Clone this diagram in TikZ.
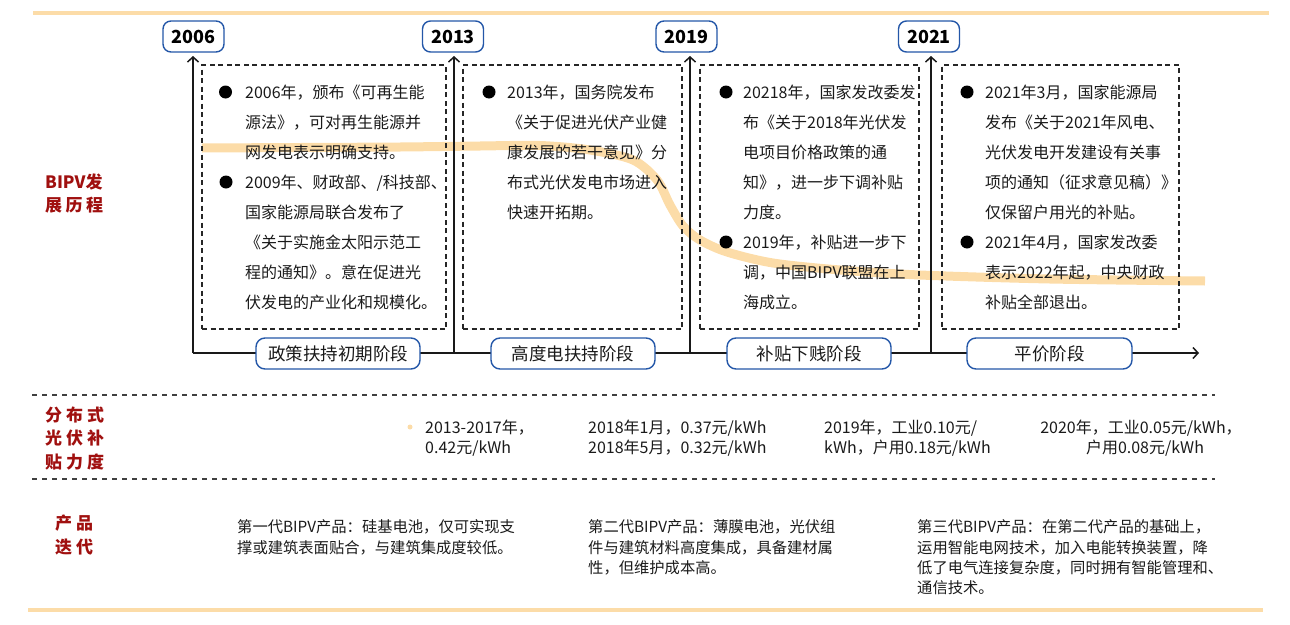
\documentclass[tikz,border=0pt]{standalone}
\usepackage{fontspec}
\setmainfont{Noto Sans CJK SC}
\usetikzlibrary{arrows.meta}
\definecolor{bblue}{HTML}{2457A8}
\definecolor{dred}{HTML}{A0100F}
\definecolor{lorange}{HTML}{FCDCA8}
\definecolor{txt}{HTML}{1A1A1A}
\begin{document}
\begin{tikzpicture}[x=1pt,y=-1pt,
  yearbox/.style={draw=bblue, line width=1.4pt, rounded corners=8pt, minimum width=61pt, minimum height=31pt, inner sep=0pt, fill=white, font=\fontsize{18}{18}\selectfont\bfseries, text=black},
  phasebox/.style={draw=bblue, line width=1.4pt, rounded corners=9pt, minimum width=164pt, minimum height=31pt, inner sep=0pt, fill=white, font=\fontsize{17.5}{17.5}\selectfont, text=txt},
  dashbox/.style={draw=black!85, line width=1.2pt, dash pattern=on 5pt off 3.5pt},
  axisline/.style={line width=1.8pt, draw=black!90, -{Straight Barb[length=5pt,width=11pt,line width=1.5pt]}},
  sepline/.style={draw=black!75, line width=1.2pt, dash pattern=on 5pt off 5pt},
  bandline/.style={draw=lorange, line width=4pt},
  bodytext/.style={anchor=base west, inner sep=0pt, font=\fontsize{16}{16}\selectfont, text=txt},
  subtext/.style={anchor=base west, inner sep=0pt, font=\fontsize{16}{16}\selectfont, text=txt},
  lowtext/.style={anchor=base west, inner sep=0pt, font=\fontsize{15.3}{15.3}\selectfont, text=txt},
  redlabel/.style={anchor=base west, inner sep=0pt, font=\fontsize{17}{17}\selectfont\bfseries, text=dred},
  bul/.style={circle, fill=black, inner sep=0pt, minimum size=13pt},
]
\useasboundingbox (0,0) rectangle (1290,624);

% top and bottom bands
\coordinate (tl) at (33,13); \coordinate (tr) at (1269,13);
\coordinate (bl) at (28,610); \coordinate (br) at (1263,610);
\draw[bandline] (tl) -- (tr);
\draw[bandline] (bl) -- (br);

% orange trend curve
\draw[draw=lorange, line width=9pt] plot[smooth, tension=0.5] coordinates
  {(202,148) (300,147.5) (400,147) (480,146) (540,145.5) (590,150) (633,160) (657,180) (670,205) (683,226) (700,240) (727,252) (773,263) (840,270) (920,275) (1050,279) (1205,281)};

% dashed boxes
\node[dashbox, minimum width=244pt, minimum height=264pt, inner sep=0pt] (box1) at (324,197) {};
\node[dashbox, minimum width=219pt, minimum height=264pt, inner sep=0pt] (box2) at (572.5,197) {};
\node[dashbox, minimum width=219pt, minimum height=264pt, inner sep=0pt] (box3) at (809.5,197) {};
\node[dashbox, minimum width=237pt, minimum height=264pt, inner sep=0pt] (box4) at (1060.5,197) {};

% axes
\coordinate (o1) at (193,353); \coordinate (u1) at (193,56);
\coordinate (o2) at (454,353); \coordinate (u2) at (454,56);
\coordinate (o3) at (690,353); \coordinate (u3) at (690,56);
\coordinate (o4) at (931,353); \coordinate (u4) at (931,56);
\coordinate (oe) at (1199,353);
\draw[axisline] (o1) -- (oe);
\draw[axisline] (o1) -- (u1);
\draw[axisline] (o2) -- (u2);
\draw[axisline] (o3) -- (u3);
\draw[axisline] (o4) -- (u4);

% year boxes
\node[yearbox] (y2006) at (193.5,36.5) {2006};
\node[yearbox] (y2013) at (453,36.5) {2013};
\node[yearbox] (y2019) at (686.5,36.5) {2019};
\node[yearbox] (y2021) at (929,36.5) {2021};

% phase boxes
\node[phasebox] (p1) at (338,353.5) {政策扶持初期阶段};
\node[phasebox] (p2) at (573,353.5) {高度电扶持阶段};
\node[phasebox] (p3) at (809,353.5) {补贴下贱阶段};
\node[phasebox, minimum width=165pt] (p4) at (1049.5,353.5) {平价阶段};

% bullets
\node[bul] (d1a) at (225.5,92) {};
\node[bul] (d1b) at (226,182) {};
\node[bul] (d2a) at (489,92) {};
\node[bul] (d3a) at (726,92) {};
\node[bul] (d3b) at (726,242) {};
\node[bul] (d4a) at (967,92) {};
\node[bul] (d4b) at (967,242) {};

% box texts
\foreach \t [count=\i] in {2006年，颁布《可再生能, 源法》，可对再生能源并, 网发电表示明确支持。, 2009年、财政部、/科技部、, 国家能源局联合发布了, 《关于实施金太阳示范工, 程的通知》。意在促进光, 伏发电的产业化和规模化。}
  \node[bodytext] (ta\i) at (245,{98+30*(\i-1)}) {\t};
\foreach \t [count=\i] in {2013年，国务院发布, 《关于促进光伏产业健, 康发展的若干意见》分, 布式光伏发电市场进入, 快速开拓期。}
  \node[bodytext] (tb\i) at (507,{98+30*(\i-1)}) {\t};
\foreach \t [count=\i] in {20218年，国家发改委发, 布《关于2018年光伏发, 电项目价格政策的通, 知》，进一步下调补贴, 力度。, 2019年，补贴进一步下, 调，中国BIPV联盟在上, 海成立。}
  \node[bodytext] (tc\i) at (743,{98+30*(\i-1)}) {\t};
\foreach \t [count=\i] in {2021年3月，国家能源局, 发布《关于2021年风电、, 光伏发电开发建设有关事, 项的通知（征求意见稿）》, 仅保留户用光的补贴。, 2021年4月，国家发改委, 表示2022年起，中央财政, 补贴全部退出。}
  \node[bodytext] (td\i) at (985,{98+30*(\i-1)}) {\t};

% left labels
\node[redlabel] (l1a) at (45,188) {BIPV发};
\node[redlabel] (l1b) at (45,211) {展\hspace{3.5pt}历\hspace{3.5pt}程};
\node[redlabel] (l2a) at (45,421) {分\hspace{4pt}布\hspace{4pt}式};
\node[redlabel] (l2b) at (45,444.5) {光\hspace{4pt}伏\hspace{4pt}补};
\node[redlabel] (l2c) at (45,468) {贴\hspace{4pt}力\hspace{4pt}度};
\node[redlabel] (l3a) at (55,529) {产\hspace{4pt}品};
\node[redlabel] (l3b) at (55,553) {迭\hspace{4pt}代};

% separators
\coordinate (s1l) at (32,395); \coordinate (s1r) at (1215,395);
\coordinate (s2l) at (32,479); \coordinate (s2r) at (1215,479);
\draw[sepline] (s1l) -- (s1r);
\draw[sepline] (s2l) -- (s2r);

% subsidy row
\node[circle, fill=lorange, inner sep=0pt, minimum size=5pt] (sd) at (410,427) {};
\node[subtext] (sa1) at (425,433.5) {2013-2017年，};
\node[subtext] (sa2) at (425,453.5) {0.42元/kWh};
\node[subtext] (sb1) at (588,433.5) {2018年1月，0.37元/kWh};
\node[subtext] (sb2) at (588,453.5) {2018年5月，0.32元/kWh};
\node[subtext] (sc1) at (824,433.5) {2019年，工业0.10元/};
\node[subtext] (sc2) at (824,453.5) {kWh，户用0.18元/kWh};
\node[subtext, anchor=base] (se1) at (1141,433.5) {2020年，工业0.05元/kWh，};
\node[subtext, anchor=base] (se2) at (1145,453.5) {户用0.08元/kWh};

% product row
\node[lowtext] (pa1) at (237,532) {第一代BIPV产品：硅基电池，仅可实现支};
\node[lowtext] (pa2) at (237,553) {撑或建筑表面贴合，与建筑集成度较低。};
\node[lowtext] (pb1) at (588,532) {第二代BIPV产品：薄膜电池，光伏组};
\node[lowtext] (pb2) at (588,553) {件与建筑材料高度集成，具备建材属};
\node[lowtext] (pb3) at (588,573) {性，但维护成本高。};
\node[lowtext] (pc1) at (917,532) {第三代BIPV产品：在第二代产品的基础上，};
\node[lowtext] (pc2) at (917,553) {运用智能电网技术，加入电能转换装置，降};
\node[lowtext] (pc3) at (917,573) {低了电气连接复杂度，同时拥有智能管理和、};
\node[lowtext] (pc4) at (917,593) {通信技术。};
\end{tikzpicture}
\end{document}
